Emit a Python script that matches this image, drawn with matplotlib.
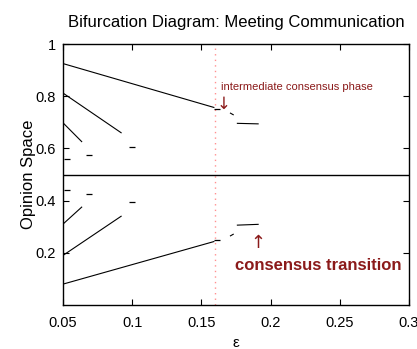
import matplotlib
matplotlib.use('Agg')
import matplotlib.pyplot as plt

plt.rcParams['font.family'] = ['Liberation Sans', 'DejaVu Sans']

# branches of the bifurcation diagram: (eps list, opinion list)
upper_main_eps = [0.05, 0.159]
upper_main_val = [0.925, 0.757]
upper_step_eps = [0.171, 0.173]
upper_step_val = [0.735, 0.729]
upper_flat_eps = [0.176, 0.191]
upper_flat_val = [0.696, 0.694]
upper_b2_eps = [0.05, 0.092]
upper_b2_val = [0.812, 0.660]
upper_b3_eps = [0.05, 0.0635]
upper_b3_val = [0.698, 0.626]
upper_pts_eps = [0.0527, 0.069, 0.0997, 0.161]
upper_pts_val = [0.558, 0.573, 0.606, 0.752]

lower_main_eps = [0.05, 0.159]
lower_main_val = [0.080, 0.243]
lower_step_eps = [0.171, 0.173]
lower_step_val = [0.265, 0.271]
lower_flat_eps = [0.176, 0.191]
lower_flat_val = [0.306, 0.309]
lower_b2_eps = [0.05, 0.092]
lower_b2_val = [0.190, 0.340]
lower_b3_eps = [0.05, 0.0635]
lower_b3_val = [0.310, 0.375]
lower_pts_eps = [0.0527, 0.069, 0.0997, 0.161]
lower_pts_val = [0.442, 0.427, 0.395, 0.248]

center_eps = [0.05, 0.3]
center_val = [0.5, 0.5]

critical_eps = 0.16

fig = plt.figure(figsize=(4.17, 3.49), dpi=100)
ax = fig.add_axes([63 / 417, 1 - 305 / 349, 346 / 417, 261 / 349])

ax.axvline(critical_eps, color='#ff9090', linestyle=(0, (1, 3)), linewidth=1.0)

segs = [
    (upper_main_eps, upper_main_val), (upper_step_eps, upper_step_val),
    (upper_flat_eps, upper_flat_val), (upper_b2_eps, upper_b2_val),
    (upper_b3_eps, upper_b3_val),
    (lower_main_eps, lower_main_val), (lower_step_eps, lower_step_val),
    (lower_flat_eps, lower_flat_val), (lower_b2_eps, lower_b2_val),
    (lower_b3_eps, lower_b3_val),
]
for xs, ys in segs:
    ax.plot(xs, ys, color='black', linewidth=0.8)
ax.plot(upper_pts_eps, upper_pts_val, '_', color='black', markersize=4, mew=0.9)
ax.plot(lower_pts_eps, lower_pts_val, '_', color='black', markersize=4, mew=0.9)
ax.plot(center_eps, center_val, color='black', linewidth=1.0)

dark_red = '#8b1a1a'
ax.text(0.164, 0.815, 'intermediate consensus phase', color=dark_red,
        fontsize=8, ha='left', va='bottom')
ax.text(0.1663, 0.77, '\u2193', color=dark_red, fontsize=12,
        ha='center', va='center', family=['DejaVu Sans'])
ax.text(0.1905, 0.238, '\u2191', color=dark_red, fontsize=13,
        ha='center', va='center', family=['DejaVu Sans'])
ax.text(0.174, 0.153, 'consensus transition', color=dark_red,
        fontsize=12, fontweight='bold', ha='left', va='center')

ax.set_xlim(0.05, 0.3)
ax.set_ylim(0.0, 1.0)
ax.set_xticks([0.05, 0.1, 0.15, 0.2, 0.25, 0.3])
ax.set_xticklabels(['0.05', '0.1', '0.15', '0.2', '0.25', '0.3'])
ax.set_yticks([0.2, 0.4, 0.6, 0.8, 1.0])
ax.set_yticklabels(['0.2', '0.4', '0.6', '0.8', '1'])
ax.tick_params(direction='in', top=True, right=True, labelsize=10.5,
               length=4, width=0.8)
ax.tick_params(axis='x', pad=8)
ax.tick_params(axis='y', pad=5)
for s in ax.spines.values():
    s.set_linewidth(1.0)

ax.set_title('Bifurcation Diagram: Meeting Communication', fontsize=12, pad=12)
ax.set_xlabel('\u03b5', fontsize=11, labelpad=4)
ax.set_ylabel('Opinion Space', fontsize=12, labelpad=0)

fig.savefig('out.png', dpi=100)
